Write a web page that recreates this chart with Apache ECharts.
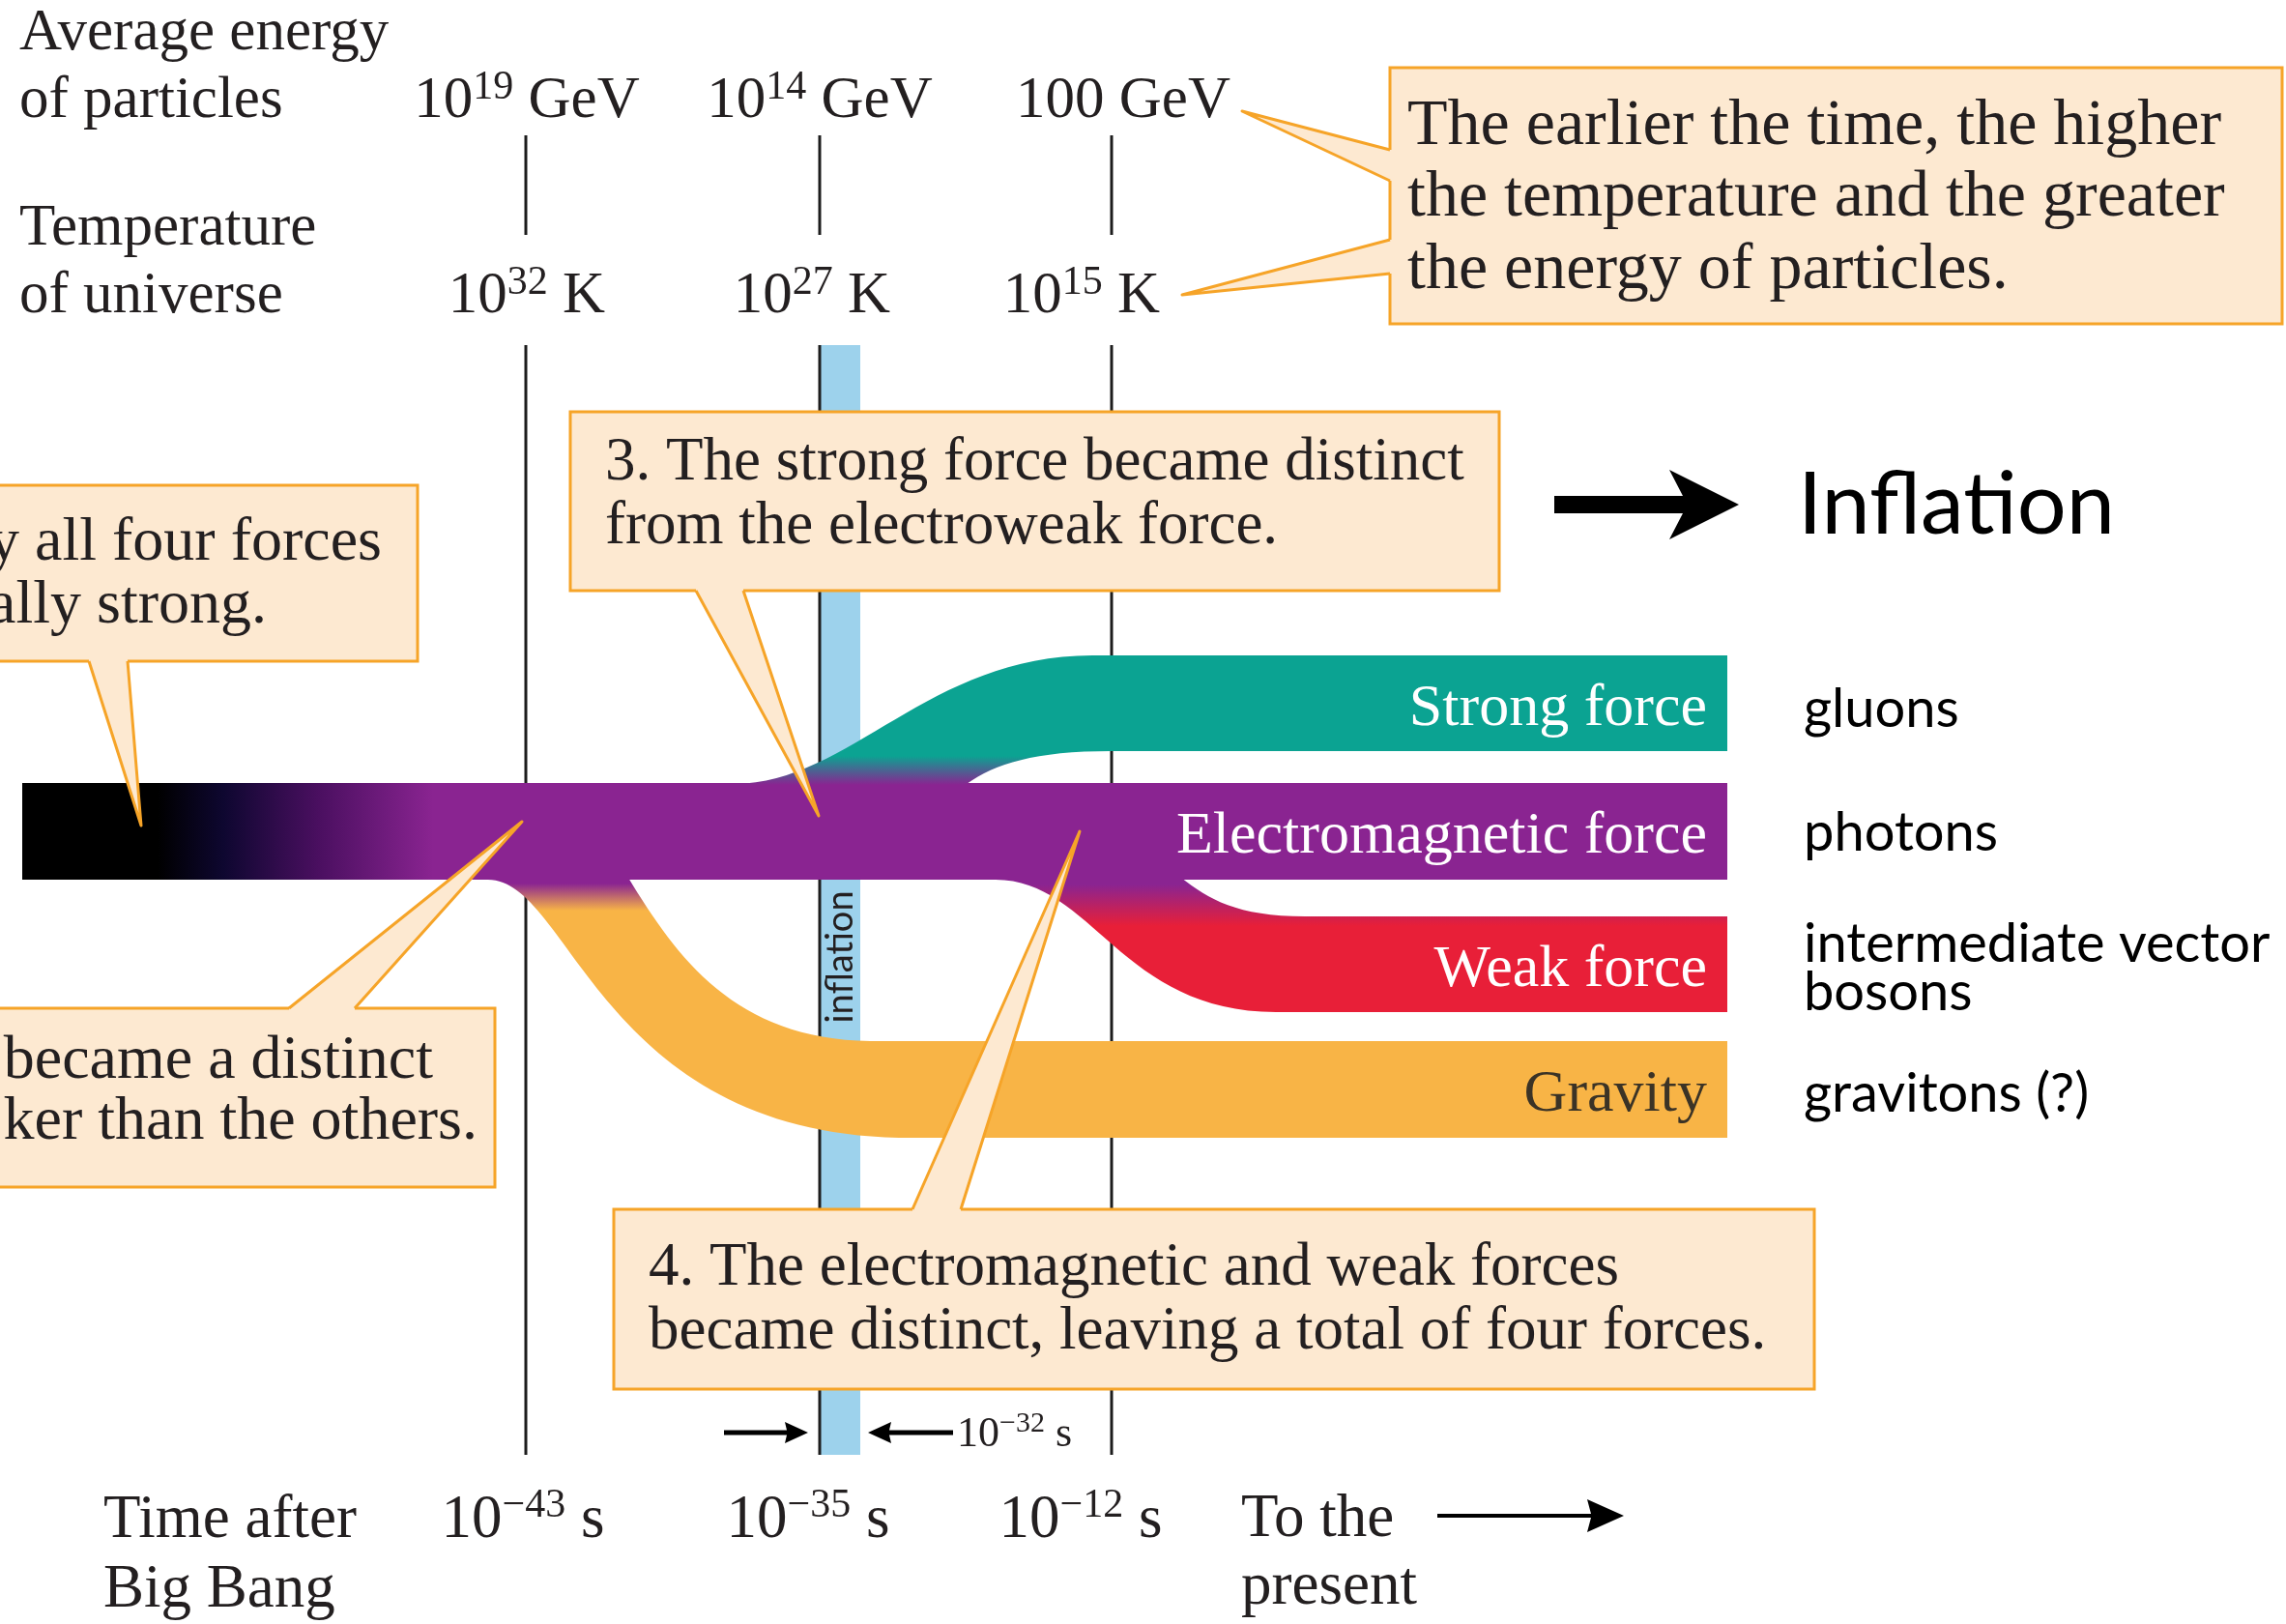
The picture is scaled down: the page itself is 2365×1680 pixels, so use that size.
<!DOCTYPE html>
<html>
<head>
<meta charset="utf-8">
<title>The four forces</title>
<script src="https://cdn.jsdelivr.net/npm/echarts@6.0.0/dist/echarts.min.js"></script>
<style>
html, body { margin: 0; padding: 0; background: #ffffff; }
#main { width: 2365px; height: 1680px; }
</style>
</head>
<body>
<div id="main"></div>
<script>
// ---- data ----
var energyLabels = [['10', '19', ' GeV'], ['10', '14', ' GeV'], ['100', '', ' GeV']];
var tempLabels = [['10', '32', ' K'], ['10', '27', ' K'], ['10', '15', ' K']];
var timeLabels = [['10', '\u221243', ' s'], ['10', '\u221235', ' s'], ['10', '\u221212', ' s']];
var inflationSpan = ['10', '\u221232', ' s'];
var forceNames = ['Strong force', 'Electromagnetic force', 'Weak force', 'Gravity'];
var carrierNames = ['gluons', 'photons', 'intermediate vector\nbosons', 'gravitons (?)'];
var calloutTexts = [
  ['The earlier the time, the higher', 'the temperature and the greater', 'the energy of particles.'],
  ['y all four forces', 'ally strong.'],
  [' became a distinct', 'ker than the others.'],
  ['3. The strong force became distinct', 'from the electroweak force.'],
  ['4. The electromagnetic and weak forces', 'became distinct, leaving a total of four forces.']
];

// ---- layout (axis units = pixels of the 2365 x 1680 canvas) ----
var W = 2365, H = 1680;
var SERIF = '"Liberation Serif", "Times New Roman", serif';
var SANS = 'Lato, "Open Sans", sans-serif';
var INK = '#231f20';
var PURPLE = '#8a2491', TEAL = '#0ba392', RED = '#e81f38', ORANGE = '#f8b446', BLUE = '#9dd2ec';
var CALLOUT_FILL = '#fde9d1', CALLOUT_STROKE = '#f6a428';
var LABEL_COLORS = ['#ffffff', '#ffffff', '#ffffff', '#3b3326'];

var EPOCH_X = [544, 848, 1150];
var TICK_TOP = [140, 243], RULE = [357, 1505];
var LANE_Y = [727.5, 860, 997.5, 1127];
var BAND_LEFT = 23, BAND_RIGHT = 1787, BAND_H = 100;
var LABEL_RIGHT = 1766, CARRIER_X = 1866, CARRIER_Y = [734, 862, 1002, 1132];
var SERIF_DY = 6; // canvas 'middle' sits a little high for this face

// branch outlines, drawn over the electroweak band
var BRANCH = [
  { path: [['M', 760, 840], ['L', 760, 811], ['C', 880, 810, 960, 678, 1130, 678], ['L', 1787, 678], ['L', 1787, 777],
           ['L', 1150, 777], ['C', 1070, 777, 1030, 790, 1000, 811], ['L', 1000, 840], ['Z']],
    grad: [782, 812], from: TEAL, to: PURPLE },
  null,
  { path: [['M', 1000, 908], ['L', 1222, 908], ['C', 1250, 930, 1280, 948, 1350, 948], ['L', 1787, 948], ['L', 1787, 1047],
           ['L', 1320, 1047], ['C', 1160, 1047, 1130, 910, 1030, 910], ['L', 1000, 910], ['Z']],
    grad: [915, 958], from: PURPLE, to: RED },
  { path: [['M', 505, 908], ['L', 650, 908], ['C', 700, 990, 760, 1075, 900, 1077], ['L', 1787, 1077], ['L', 1787, 1177],
           ['L', 930, 1177], ['C', 620, 1170, 590, 910, 505, 910], ['Z']],
    grad: [914, 942], from: PURPLE, to: ORANGE }
];

var CALLOUTS = [
  { box: [1438, 70, 2361, 335], tails: [[[1438, 155], [1285, 115], [1438, 187]], [[1438, 248], [1223, 305], [1438, 283]]],
    size: 68, align: 'left', xs: [1456, 1456, 1456], ys: [125, 199, 274] },
  { box: [-10, 502, 432, 684], tails: [[[92, 684], [146, 854], [132, 684]]],
    size: 64, align: 'right', xs: [395, 276], ys: [556, 621] },
  { box: [-10, 1043, 512, 1228], tails: [[[299, 1043], [540, 850], [367, 1043]]],
    size: 64, align: 'right', xs: [448, 494], ys: [1092, 1155] },
  { box: [590, 426, 1551, 611], tails: [[[720, 611], [847, 844], [769, 611]]],
    size: 63, align: 'left', xs: [626, 626], ys: [473, 539] },
  { box: [635, 1251, 1877, 1437], tails: [[[944, 1251], [1117, 860], [994, 1251]]],
    size: 63, align: 'left', xs: [671, 671], ys: [1306, 1372] }
];

function textStyle(text, font, color, align, va, extra) {
  var s = { text: text, font: font, fill: color, textFill: color, align: align, textAlign: align,
            verticalAlign: va, textVerticalAlign: va };
  if (extra) { for (var k in extra) s[k] = extra[k]; }
  return s;
}

function supRich(size, supSize, raise) {
  var L = Math.round(size * 1.15);
  return {
    b: { fontSize: size, fontFamily: SERIF, fill: INK, textFill: INK, lineHeight: L, verticalAlign: 'middle' },
    s: { fontSize: supSize, fontFamily: SERIF, fill: INK, textFill: INK, lineHeight: L - 2 * raise, verticalAlign: 'top' }
  };
}
function supText(parts) {
  return '{b|' + parts[0] + '}' + (parts[1] ? '{s|' + parts[1] + '}' : '') + '{b|' + parts[2] + '}';
}

function toPath(api, cmds) {
  return cmds.map(function (c) {
    if (c[0] === 'Z') return 'Z';
    var s = c[0];
    for (var i = 1; i < c.length; i += 2) {
      var p = api.coord([c[i], c[i + 1]]);
      s += ' ' + p[0].toFixed(1) + ' ' + p[1].toFixed(1);
    }
    return s;
  }).join(' ');
}

var chart = echarts.init(document.getElementById('main'));

// plain texts round the diagram
var labels = [];
function addText(x, y, text, font, align, extra) {
  labels.push({ type: 'text', x: x, y: y + SERIF_DY, z: 100, style: textStyle(text, font, INK, align || 'left', 'middle', extra) });
}
addText(20, 29, 'Average energy', '61px ' + SERIF);
addText(20, 99, 'of particles', '61px ' + SERIF);
addText(20, 231, 'Temperature', '61px ' + SERIF);
addText(20, 301, 'of universe', '61px ' + SERIF);
var ENERGY_X = [545, 848, 1162], TEMP_X = [545, 840, 1119], TIME_X = [541, 836, 1118];
energyLabels.forEach(function (p, i) {
  addText(ENERGY_X[i], 99, supText(p), '61px ' + SERIF, 'center', { rich: supRich(61, 42, 17) });
});
tempLabels.forEach(function (p, i) {
  addText(TEMP_X[i], 301, supText(p), '61px ' + SERIF, 'center', { rich: supRich(61, 42, 17) });
});
timeLabels.forEach(function (p, i) {
  addText(TIME_X[i], 1567, supText(p), '63px ' + SERIF, 'center', { rich: supRich(63, 42, 19) });
});
addText(107, 1567, 'Time after', '63px ' + SERIF);
addText(107, 1639, 'Big Bang', '63px ' + SERIF);
addText(1284, 1566, 'To the', '63px ' + SERIF);
addText(1284, 1636, 'present', '63px ' + SERIF);
addText(990, 1478, supText(inflationSpan), '44px ' + SERIF, 'left', { rich: supRich(44, 30, 12) });
labels.push({ type: 'text', x: 1860, y: 523, z: 100, style: textStyle('Inflation', '90px ' + SANS, '#000000', 'left', 'middle') });

var arrows = [
  // inflation key arrow
  [[1608, 513], [1741, 513], [1727, 486], [1799, 522], [1727, 558], [1741, 531], [1608, 531]],
  // bracket arrows round the inflation strip
  [[749, 1479.5], [814, 1479.5], [812, 1471], [836, 1482], [812, 1493], [814, 1484.5], [749, 1484.5]],
  [[986, 1479.5], [920, 1479.5], [922, 1471], [898, 1482], [922, 1493], [920, 1484.5], [986, 1484.5]],
  // to the present
  [[1487, 1566], [1646, 1566], [1642, 1551], [1680, 1568], [1642, 1585], [1646, 1570], [1487, 1570]]
];
arrows.forEach(function (pts) {
  labels.push({ type: 'polygon', z: 100, shape: { points: pts }, style: { fill: '#000000' } });
});

chart.setOption({
  animation: false,
  backgroundColor: '#ffffff',
  grid: { left: 0, right: 0, top: 0, bottom: 0 },
  xAxis: { type: 'value', min: 0, max: W, show: false },
  yAxis: { type: 'value', min: 0, max: H, inverse: true, show: false },
  graphic: { elements: labels },
  series: [
    {
      name: 'inflation', type: 'custom', z: 1, data: [[1, 0]],
      renderItem: function (params, api) {
        var x = EPOCH_X[api.value(0)];
        var a = api.coord([x + 1, RULE[0]]), b = api.coord([x + 42, RULE[1]]);
        var m = api.coord([x + 22, 990]);
        return { type: 'group', children: [
          { type: 'rect', shape: { x: a[0], y: a[1], width: b[0] - a[0], height: b[1] - a[1] }, style: { fill: BLUE } },
          { type: 'text', x: m[0], y: m[1], rotation: Math.PI / 2, style: textStyle('inflation', '38px ' + SANS, INK, 'center', 'middle') }
        ] };
      }
    },
    {
      name: 'epochs', type: 'custom', z: 2,
      data: EPOCH_X.map(function (x) { return [x, 0]; }),
      renderItem: function (params, api) {
        var x = api.value(0);
        var t0 = api.coord([x, TICK_TOP[0]]), t1 = api.coord([x, TICK_TOP[1]]);
        var r0 = api.coord([x, RULE[0]]), r1 = api.coord([x, RULE[1]]);
        var st = { stroke: '#1c1c1c', lineWidth: 3 };
        return { type: 'group', children: [
          { type: 'line', shape: { x1: t0[0], y1: t0[1], x2: t1[0], y2: t1[1] }, style: st },
          { type: 'line', shape: { x1: r0[0], y1: r0[1], x2: r1[0], y2: r1[1] }, style: st }
        ] };
      }
    },
    {
      name: 'unified', type: 'custom', z: 3, data: [[1, 0]],
      renderItem: function (params, api) {
        var y = LANE_Y[api.value(0)];
        var a = api.coord([BAND_LEFT, y - BAND_H / 2]), b = api.coord([BAND_RIGHT, y + BAND_H / 2]);
        var g0 = api.coord([BAND_LEFT, y]), g1 = api.coord([448, y]);
        return { type: 'rect', shape: { x: a[0], y: a[1], width: b[0] - a[0], height: b[1] - a[1] },
          style: { fill: new echarts.graphic.LinearGradient(g0[0], 0, g1[0], 0, [
            { offset: 0, color: '#000000' }, { offset: 0.33, color: '#000000' }, { offset: 0.49, color: '#0e0730' },
            { offset: 0.72, color: '#4a0f60' }, { offset: 1, color: PURPLE }], true) } };
      }
    },
    {
      name: 'forces', type: 'custom', z: 4,
      data: forceNames.map(function (n, i) { return [i, 0]; }),
      renderItem: function (params, api) {
        var i = api.value(0);
        var children = [];
        var br = BRANCH[i];
        if (br) {
          var g0 = api.coord([0, br.grad[0]]), g1 = api.coord([0, br.grad[1]]);
          children.push({ type: 'path', shape: { pathData: toPath(api, br.path) },
            style: { fill: new echarts.graphic.LinearGradient(0, g0[1], 0, g1[1],
              [{ offset: 0, color: br.from }, { offset: 1, color: br.to }], true) } });
        }
        var lp = api.coord([LABEL_RIGHT, LANE_Y[i] + SERIF_DY]);
        children.push({ type: 'text', x: lp[0], y: lp[1], z2: 10,
          style: textStyle(forceNames[i], '62px ' + SERIF, LABEL_COLORS[i], 'right', 'middle') });
        var cp = api.coord([CARRIER_X, CARRIER_Y[i]]);
        children.push({ type: 'text', x: cp[0], y: cp[1], z2: 10,
          style: textStyle(carrierNames[i], '56px ' + SANS, '#000000', 'left', 'middle', { lineHeight: 50, textLineHeight: 50 }) });
        return { type: 'group', children: children };
      }
    },
    {
      name: 'callouts', type: 'custom', z: 5,
      data: calloutTexts.map(function (t, i) { return [i, 0]; }),
      renderItem: function (params, api) {
        var k = api.value(0);
        var L = CALLOUTS[k];
        var a = api.coord([L.box[0], L.box[1]]), b = api.coord([L.box[2], L.box[3]]);
        var children = [{ type: 'rect', shape: { x: a[0], y: a[1], width: b[0] - a[0], height: b[1] - a[1] },
          style: { fill: CALLOUT_FILL, stroke: CALLOUT_STROKE, lineWidth: 3 } }];
        L.tails.forEach(function (t) {
          var dx = 0, dy = 0;
          if (Math.abs(t[0][1] - L.box[3]) < 1) dy = -6;
          else if (Math.abs(t[0][1] - L.box[1]) < 1) dy = 6;
          else dx = 6;
          var p1 = api.coord(t[0]), tip = api.coord(t[1]), p2 = api.coord(t[2]);
          var p1in = [p1[0] + dx, p1[1] + dy], p2in = [p2[0] + dx, p2[1] + dy];
          children.push({ type: 'polygon', shape: { points: [p1in, p1, tip, p2, p2in] }, style: { fill: CALLOUT_FILL } });
          children.push({ type: 'polyline', shape: { points: [p1, tip, p2] },
            style: { stroke: CALLOUT_STROKE, lineWidth: 3, fill: null, lineJoin: 'round' } });
        });
        calloutTexts[k].forEach(function (line, j) {
          var p = api.coord([L.xs[j], L.ys[j] + SERIF_DY]);
          children.push({ type: 'text', x: p[0], y: p[1],
            style: textStyle(line, L.size + 'px ' + SERIF, INK, L.align, 'middle') });
        });
        return { type: 'group', children: children };
      }
    }
  ]
});
</script>
</body>
</html>
